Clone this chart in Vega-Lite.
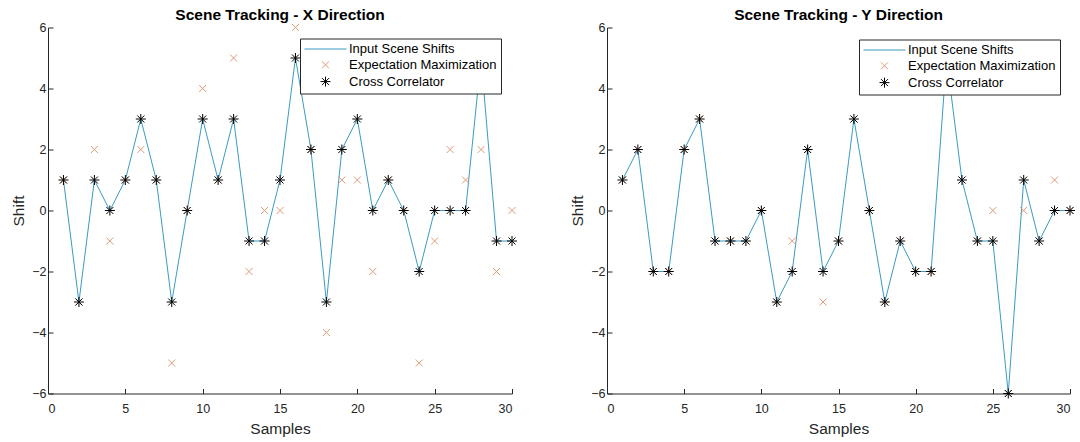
{
  "$schema": "https://vega.github.io/schema/vega-lite/v6.json",
  "background": "white",
  "padding": {"left": 11, "top": 7.5, "right": 2, "bottom": 2},
  "datasets": {
    "xdir": [
      {"sample": 1, "input": 1, "em": 1, "cc": 1},
      {"sample": 2, "input": -3, "em": -3, "cc": -3},
      {"sample": 3, "input": 1, "em": 2, "cc": 1},
      {"sample": 4, "input": 0, "em": -1, "cc": 0},
      {"sample": 5, "input": 1, "em": 1, "cc": 1},
      {"sample": 6, "input": 3, "em": 2, "cc": 3},
      {"sample": 7, "input": 1, "em": 1, "cc": 1},
      {"sample": 8, "input": -3, "em": -5, "cc": -3},
      {"sample": 9, "input": 0, "em": 0, "cc": 0},
      {"sample": 10, "input": 3, "em": 4, "cc": 3},
      {"sample": 11, "input": 1, "em": 1, "cc": 1},
      {"sample": 12, "input": 3, "em": 5, "cc": 3},
      {"sample": 13, "input": -1, "em": -2, "cc": -1},
      {"sample": 14, "input": -1, "em": 0, "cc": -1},
      {"sample": 15, "input": 1, "em": 0, "cc": 1},
      {"sample": 16, "input": 5, "em": 6, "cc": 5},
      {"sample": 17, "input": 2, "em": 2, "cc": 2},
      {"sample": 18, "input": -3, "em": -4, "cc": -3},
      {"sample": 19, "input": 2, "em": 1, "cc": 2},
      {"sample": 20, "input": 3, "em": 1, "cc": 3},
      {"sample": 21, "input": 0, "em": -2, "cc": 0},
      {"sample": 22, "input": 1, "em": 1, "cc": 1},
      {"sample": 23, "input": 0, "em": 0, "cc": 0},
      {"sample": 24, "input": -2, "em": -5, "cc": -2},
      {"sample": 25, "input": 0, "em": -1, "cc": 0},
      {"sample": 26, "input": 0, "em": 2, "cc": 0},
      {"sample": 27, "input": 0, "em": 1, "cc": 0},
      {"sample": 28, "input": 5, "em": 2, "cc": 5},
      {"sample": 29, "input": -1, "em": -2, "cc": -1},
      {"sample": 30, "input": -1, "em": 0, "cc": -1}
    ],
    "ydir": [
      {"sample": 1, "input": 1, "em": 1, "cc": 1},
      {"sample": 2, "input": 2, "em": 2, "cc": 2},
      {"sample": 3, "input": -2, "em": -2, "cc": -2},
      {"sample": 4, "input": -2, "em": -2, "cc": -2},
      {"sample": 5, "input": 2, "em": 2, "cc": 2},
      {"sample": 6, "input": 3, "em": 3, "cc": 3},
      {"sample": 7, "input": -1, "em": -1, "cc": -1},
      {"sample": 8, "input": -1, "em": -1, "cc": -1},
      {"sample": 9, "input": -1, "em": -1, "cc": -1},
      {"sample": 10, "input": 0, "em": 0, "cc": 0},
      {"sample": 11, "input": -3, "em": -3, "cc": -3},
      {"sample": 12, "input": -2, "em": -1, "cc": -2},
      {"sample": 13, "input": 2, "em": 2, "cc": 2},
      {"sample": 14, "input": -2, "em": -3, "cc": -2},
      {"sample": 15, "input": -1, "em": -1, "cc": -1},
      {"sample": 16, "input": 3, "em": 3, "cc": 3},
      {"sample": 17, "input": 0, "em": 0, "cc": 0},
      {"sample": 18, "input": -3, "em": -3, "cc": -3},
      {"sample": 19, "input": -1, "em": -1, "cc": -1},
      {"sample": 20, "input": -2, "em": -2, "cc": -2},
      {"sample": 21, "input": -2, "em": -2, "cc": -2},
      {"sample": 22, "input": 5, "em": 5, "cc": 5},
      {"sample": 23, "input": 1, "em": 1, "cc": 1},
      {"sample": 24, "input": -1, "em": -1, "cc": -1},
      {"sample": 25, "input": -1, "em": 0, "cc": -1},
      {"sample": 26, "input": -6, "em": -6, "cc": -6},
      {"sample": 27, "input": 1, "em": 0, "cc": 1},
      {"sample": 28, "input": -1, "em": -1, "cc": -1},
      {"sample": 29, "input": 0, "em": 1, "cc": 0},
      {"sample": 30, "input": 0, "em": 0, "cc": 0}
    ]
  },
  "config": {
    "font": "Liberation Sans",
    "view": {"stroke": null},
    "title": {"font": "Liberation Sans", "fontSize": 15.5, "fontWeight": "bold", "color": "#000000", "offset": -1.5, "anchor": "middle"},
    "axis": {
      "grid": false,
      "domainColor": "#262626",
      "tickColor": "#262626",
      "tickSize": -5,
      "labelFont": "Liberation Sans",
      "labelFontSize": 12.5,
      "labelColor": "#262626",
      "titleFont": "Liberation Sans",
      "titleFontSize": 15.5,
      "titleFontWeight": "normal",
      "titleColor": "#262626"
    },
    "axisX": {"labelPadding": 13.5, "titlePadding": 6.5},
    "axisY": {"labelPadding": 7, "titlePadding": 5}
  },
  "spacing": 51,
  "resolve": {"scale": {"color": "independent"}, "legend": {"color": "independent"}},
  "hconcat": [
    {
      "title": "Scene Tracking - X Direction",
      "width": 464,
      "height": 366,
      "data": {"name": "xdir"},
      "encoding": {
        "x": {"field": "sample", "type": "quantitative", "scale": {"domain": [0, 30], "nice": false}, "axis": {"title": "Samples", "values": [0, 5, 10, 15, 20, 25, 30]}}
      },
      "layer": [
        {
          "mark": {"type": "line", "strokeWidth": 1},
          "encoding": {
            "y": {"field": "input", "type": "quantitative", "scale": {"domain": [-6, 6], "nice": false}, "axis": {"title": "Shift", "values": [-6, -4, -2, 0, 2, 4, 6]}},
            "color": {
              "datum": "Input Scene Shifts",
              "scale": {"domain": ["Input Scene Shifts", "Expectation Maximization", "Cross Correlator"], "range": ["#3d9ac2", "#e09a76", "#000000"]},
              "legend": {
                "title": null, "orient": "none", "legendX": 252, "legendY": 11,
                "strokeColor": "#262626", "fillColor": "white", "padding": 4,
                "symbolSize": 100, "symbolOffset": 15, "labelOffset": 17, "rowPadding": 1.8,
                "labelFont": "Liberation Sans", "labelFontSize": 13, "labelColor": "#000000",
                "encode": {"symbols": {"update": {
                  "shape": {"signal": "datum.value === 'Input Scene Shifts' ? 'M-4.2,0L4.2,0' : datum.value === 'Expectation Maximization' ? 'M-0.7,-0.7L0.7,0.7M-0.7,0.7L0.7,-0.7' : 'M-1,0L1,0M0,-1L0,1M-0.7,-0.7L0.7,0.7M-0.7,0.7L0.7,-0.7'"},
                  "fill": {"value": "transparent"},
                  "strokeWidth": {"value": 1},
                  "opacity": {"value": 1}
                }}}
              }
            }
          }
        },
        {
          "mark": {"type": "point", "shape": "M-1,-1L1,1M-1,1L1,-1", "filled": false, "size": 49, "strokeWidth": 1, "opacity": 1},
          "encoding": {
            "y": {"field": "em", "type": "quantitative"},
            "color": {"datum": "Expectation Maximization"}
          }
        },
        {
          "mark": {"type": "point", "shape": "M-1,0L1,0M0,-1L0,1M-0.7,-0.7L0.7,0.7M-0.7,0.7L0.7,-0.7", "filled": false, "size": 100, "strokeWidth": 1, "opacity": 1},
          "encoding": {
            "y": {"field": "cc", "type": "quantitative"},
            "color": {"datum": "Cross Correlator"}
          }
        }
      ]
    },
    {
      "title": "Scene Tracking - Y Direction",
      "width": 463,
      "height": 366,
      "data": {"name": "ydir"},
      "encoding": {
        "x": {"field": "sample", "type": "quantitative", "scale": {"domain": [0, 30], "nice": false}, "axis": {"title": "Samples", "values": [0, 5, 10, 15, 20, 25, 30]}}
      },
      "layer": [
        {
          "mark": {"type": "line", "strokeWidth": 1},
          "encoding": {
            "y": {"field": "input", "type": "quantitative", "scale": {"domain": [-6, 6], "nice": false}, "axis": {"title": "Shift", "values": [-6, -4, -2, 0, 2, 4, 6]}},
            "color": {
              "datum": "Input Scene Shifts",
              "scale": {"domain": ["Input Scene Shifts", "Expectation Maximization", "Cross Correlator"], "range": ["#3d9ac2", "#e09a76", "#000000"]},
              "legend": {
                "title": null, "orient": "none", "legendX": 252, "legendY": 12,
                "strokeColor": "#262626", "fillColor": "white", "padding": 4,
                "symbolSize": 100, "symbolOffset": 15, "labelOffset": 17, "rowPadding": 1.8,
                "labelFont": "Liberation Sans", "labelFontSize": 13, "labelColor": "#000000",
                "encode": {"symbols": {"update": {
                  "shape": {"signal": "datum.value === 'Input Scene Shifts' ? 'M-4.2,0L4.2,0' : datum.value === 'Expectation Maximization' ? 'M-0.7,-0.7L0.7,0.7M-0.7,0.7L0.7,-0.7' : 'M-1,0L1,0M0,-1L0,1M-0.7,-0.7L0.7,0.7M-0.7,0.7L0.7,-0.7'"},
                  "fill": {"value": "transparent"},
                  "strokeWidth": {"value": 1},
                  "opacity": {"value": 1}
                }}}
              }
            }
          }
        },
        {
          "mark": {"type": "point", "shape": "M-1,-1L1,1M-1,1L1,-1", "filled": false, "size": 49, "strokeWidth": 1, "opacity": 1},
          "encoding": {
            "y": {"field": "em", "type": "quantitative"},
            "color": {"datum": "Expectation Maximization"}
          }
        },
        {
          "mark": {"type": "point", "shape": "M-1,0L1,0M0,-1L0,1M-0.7,-0.7L0.7,0.7M-0.7,0.7L0.7,-0.7", "filled": false, "size": 100, "strokeWidth": 1, "opacity": 1},
          "encoding": {
            "y": {"field": "cc", "type": "quantitative"},
            "color": {"datum": "Cross Correlator"}
          }
        }
      ]
    }
  ]
}
